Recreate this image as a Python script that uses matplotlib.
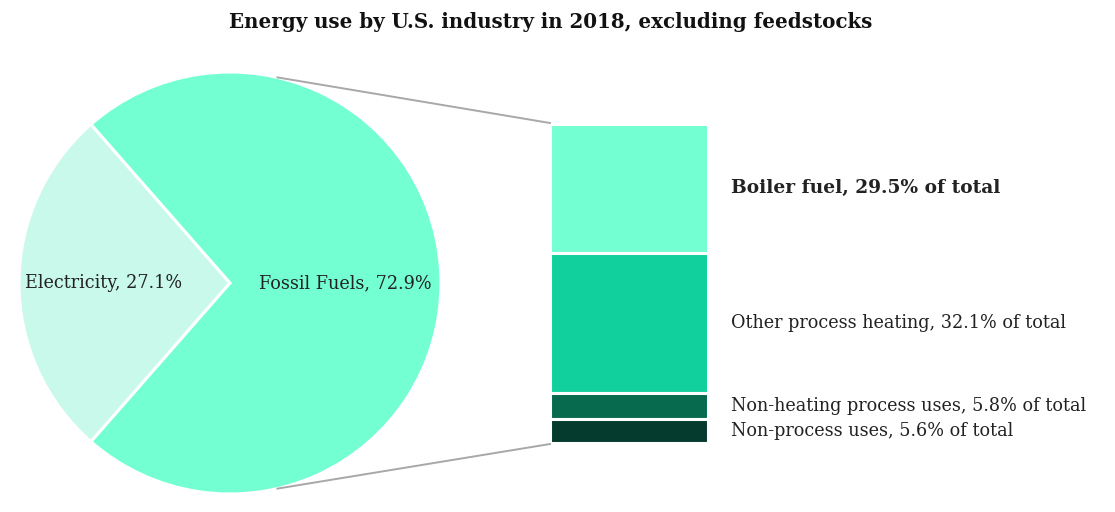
import numpy as np
import matplotlib
matplotlib.use('Agg')
import matplotlib.pyplot as plt

# Data
pie_labels = ['Electricity', 'Fossil Fuels']
pie_values = [27.1, 72.9]
pie_colors = ['#c8f9ea', '#73ffd2']

bar_labels = ['Boiler fuel', 'Other process heating', 'Non-heating process uses', 'Non-process uses']
bar_values = [29.5, 32.1, 5.8, 5.6]
bar_colors = ['#73ffd2', '#12d09e', '#076a4f', '#053b2e']

title = 'Energy use by U.S. industry in 2018, excluding feedstocks'

plt.rcParams['font.family'] = ['DejaVu Serif']
text_color = '#222222'

# Figure in pixel-like units
W, H = 1115, 512
fig = plt.figure(figsize=(W / 100, H / 100), dpi=100)
ax = fig.add_axes([0, 0, 1, 1])

# Pie
center = (230, 229)
radius = 211
elec_span = pie_values[0] / sum(pie_values) * 360
start = 180 - elec_span / 2
ax.pie(pie_values, colors=pie_colors, startangle=start, center=center, radius=radius,
       wedgeprops=dict(edgecolor='white', linewidth=2.2), frame=True)
ax.set_xlim(0, W)
ax.set_ylim(0, H)
ax.set_aspect('equal')
ax.axis('off')

# pie labels
angles = [180, 0]
dists = [0.6, 0.545]
for lab, val, ang, d in zip(pie_labels, pie_values, angles, dists):
    x = center[0] + d * radius * np.cos(np.radians(ang))
    y = center[1] + d * radius * np.sin(np.radians(ang))
    ax.text(x, y, f'{lab}, {val}%', ha='center', va='center', fontsize=12.7, color=text_color)

# Stacked bar
bar_x = 629
bar_w = 158
bar_top = 388
scale = 4.37
heights = [v * scale for v in bar_values]
tops = bar_top - np.concatenate([[0], np.cumsum(heights)[:-1]])
bottoms = tops - np.array(heights)
ax.bar(bar_x, heights, width=bar_w, bottom=bottoms, color=bar_colors,
       edgecolor='white', linewidth=2.2)

for i, (lab, val) in enumerate(zip(bar_labels, bar_values)):
    y = bottoms[i] + heights[i] / 2
    ax.text(bar_x + bar_w / 2 + 23, y, f'{lab}, {val}% of total', ha='left', va='center',
            fontsize=13.4 if i == 0 else 12.7, color=text_color,
            fontweight='bold' if i == 0 else 'normal')

# Connector lines
ang = np.radians(77)
p_top = (center[0] + radius * np.cos(ang), center[1] + radius * np.sin(ang))
p_bot = (center[0] + radius * np.cos(ang), center[1] - radius * np.sin(ang))
left = bar_x - bar_w / 2
ax.plot([p_top[0], left], [p_top[1], bar_top + 1], color='#a8a8a8', linewidth=1.4)
ax.plot([p_bot[0], left], [p_bot[1], bottoms[-1] - 1], color='#a8a8a8', linewidth=1.4)

fig.text(0.494, 0.958, title, ha='center', va='center', fontsize=14.3, fontweight='bold',
         color='#111111')

fig.savefig('out.png', dpi=100, facecolor='white')
